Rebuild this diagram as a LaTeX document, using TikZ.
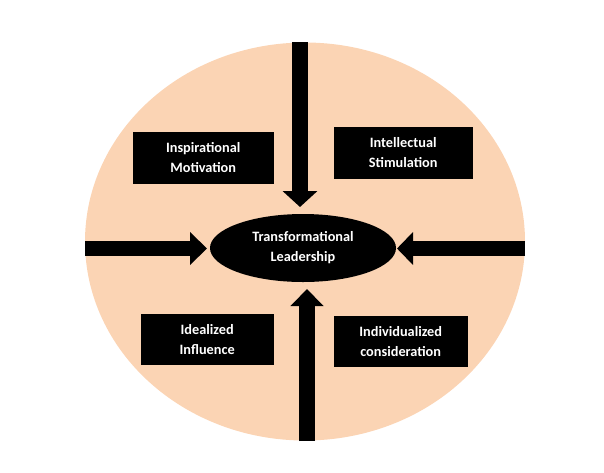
\documentclass[tikz,border=0pt]{standalone}
\usepackage{fontspec}
\setmainfont{Carlito}
\usetikzlibrary{shapes.geometric,arrows.meta}
\definecolor{peach}{HTML}{FBD4B4}
\begin{document}
\begin{tikzpicture}[x=1pt,y=-1pt,
  lbl/.style={font=\fontsize{14.3}{20}\selectfont\bfseries, text=white, align=center},
  darkbox/.style={lbl, fill=black, draw=black, inner sep=0pt, anchor=north west},
  bigarrow/.style={line width=16pt, -{Triangle[width=34pt,length=16pt]}}
]
\useasboundingbox (0,0) rectangle (604,472);
\node[ellipse, fill=peach, minimum width=440pt, minimum height=398pt, inner sep=0pt] (outer) at (305,241.5) {};
\node[ellipse, fill=black, minimum width=186pt, minimum height=68pt, inner sep=0pt, lbl] (tl) at (303,248) {Transformational\\Leadership};
\node[darkbox, minimum width=140pt, minimum height=51pt] (im) at (133,132) {};
\node[lbl] at (im.center) {Inspirational\\Motivation};
\node[darkbox, minimum width=138pt, minimum height=51pt] (is) at (334,127) {};
\node[lbl] at (is.center) {Intellectual\\Stimulation};
\node[darkbox, minimum width=132pt, minimum height=50pt] (ii) at (141,314) {};
\node[lbl] at (ii.center) {Idealized\\Influence};
\node[darkbox, minimum width=133pt, minimum height=50pt] (ic) at (334,316) {};
\node[lbl] at (ic.center) {Individualized\\consideration};
\coordinate (topS) at (300,42);
\coordinate (topE) at (300,207);
\coordinate (botS) at (307,441);
\coordinate (botE) at (307,289);
\coordinate (leftS) at (85,248.5);
\coordinate (leftE) at (207,248.5);
\coordinate (rightS) at (525,248.5);
\coordinate (rightE) at (397,248.5);
\draw[bigarrow] (topS) -- (topE);
\draw[bigarrow, -{Triangle[width=32pt,length=17pt]}] (botS) -- (botE);
\draw[bigarrow, line width=15pt, -{Triangle[width=32pt,length=17pt]}] (leftS) -- (leftE);
\draw[bigarrow, line width=15pt, -{Triangle[width=32pt,length=16pt]}] (rightS) -- (rightE);
\end{tikzpicture}
\end{document}
